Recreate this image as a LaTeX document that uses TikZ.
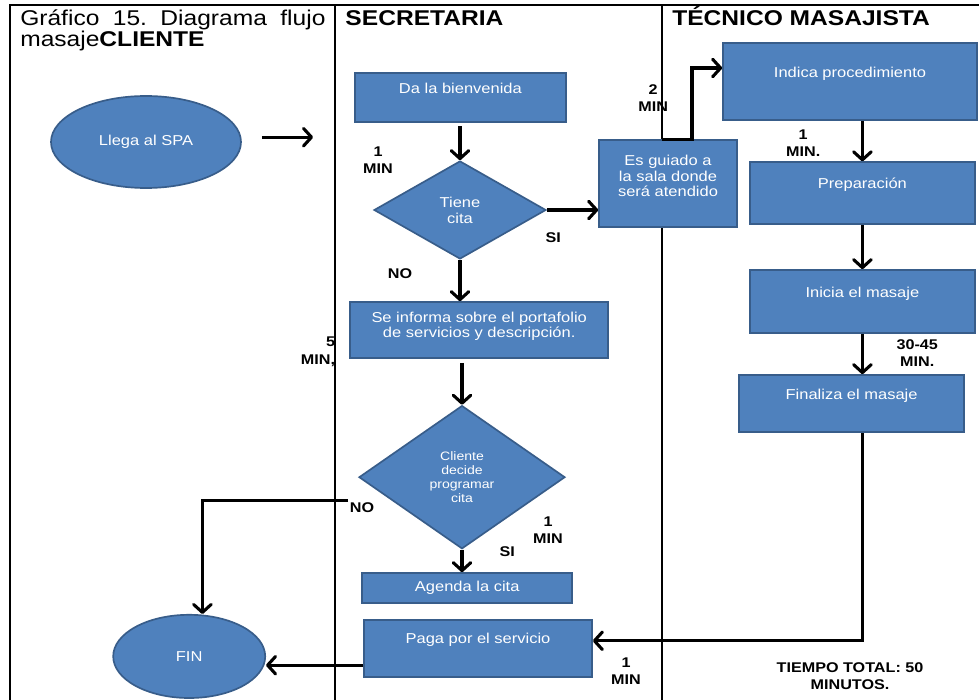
\documentclass[tikz,border=0pt]{standalone}
\usepackage{fontspec}
\setmainfont{Liberation Sans}[FakeStretch=1.15]
\usetikzlibrary{shapes.geometric,arrows.meta,positioning}

\definecolor{azul}{RGB}{79,129,189}
\definecolor{bordeazul}{RGB}{56,93,138}

\tikzset{
		linea/.style={black, line width=1pt},
		caja/.style={draw=bordeazul, fill=azul, line width=1.2pt, text=white, align=center, text depth=0.48cm, font=\fontsize{10.2}{11}\selectfont},
		rombo/.style={diamond, draw=bordeazul, fill=azul, line width=1.2pt, text=white, align=center, inner sep=0pt, font=\fontsize{10.2}{11.5}\selectfont},
		elipse/.style={ellipse, draw=bordeazul, fill=azul, line width=1.2pt, text=white, font=\fontsize{10.2}{11}\selectfont},
		flecha/.style={black, line width=2.2pt, -{Straight Barb[length=2mm,width=4.4mm,round]}},
		etiqueta/.style={align=center, inner sep=0pt, font=\bfseries\fontsize{10}{12.5}\selectfont},
		cabecera/.style={inner sep=0pt, anchor=base west, font=\bfseries\fontsize{15.2}{15}\selectfont}
	}

\begin{document}
\frenchspacing
\begin{tikzpicture}

\useasboundingbox (0,0) rectangle (24.475,-17.5);

\draw [linea] (24.475,-0.125) -- (0.25,-0.125) -- (0.25,-17.5);
\draw [linea] (8.375,-0.125) -- (8.375,-17.5);
\draw [linea] (16.55,-0.125) -- (16.55,-17.5);

\node (titulo) at (0.5,-0.23) [anchor=north west, inner sep=0pt, text width=7.63cm, align=justify, font=\fontsize{15.2}{15}\selectfont] {Gráfico 15. Diagrama flujo masaje\textbf{CLIENTE}};
\node (secretaria) at (8.63,-0.63) [cabecera] {SECRETARIA};
\node (tecnico) at (16.8,-0.63) [cabecera] {TÉCNICO MASAJISTA};


\node (llega) at (3.65,-3.55) [elipse,minimum width=4.75cm,minimum height=2.3cm] {Llega al SPA};
\node (fin) at (4.73,-16.41) [elipse,minimum width=3.8cm,minimum height=2.08cm] {FIN};


\node (bienvenida) at (11.51,-2.44) [caja,minimum width=5.28cm,minimum height=1.22cm] {Da la bienvenida};
\node (tienecita) at (11.5,-5.25) [rombo,minimum width=4.3cm,minimum height=2.45cm] {Tiene\\cita};
\node (informa) at (11.98,-8.25) [caja,minimum width=6.45cm,minimum height=1.4cm,text depth=0.25cm] {Se informa sobre el portafolio\\de servicios y descripción.};
\node (decide) at (11.55,-11.93) [rombo,minimum width=5.15cm,minimum height=3.58cm,font=\fontsize{8.7}{10}\selectfont] {Cliente\\decide\\programar\\cita};
\node (agenda) at (11.68,-14.7) [caja,minimum width=5.25cm,minimum height=0.75cm,text depth=0.08cm] {Agenda la cita};
\node (paga) at (11.95,-16.21) [caja,minimum width=5.7cm,minimum height=1.43cm] {Paga por el servicio};


\node (guiado) at (16.7,-4.59) [caja,minimum width=3.45cm,minimum height=2.18cm,text depth=0.38cm] {Es guiado a\\la sala donde\\será atendido};
\node (indica) at (21.25,-2.04) [caja,minimum width=6.35cm,minimum height=1.93cm] {Indica procedimiento};
\node (preparacion) at (21.56,-4.83) [caja,minimum width=5.63cm,minimum height=1.55cm] {Preparación};
\node (inicia) at (21.56,-7.54) [caja,minimum width=5.63cm,minimum height=1.58cm] {Inicia el masaje};
\node (finaliza) at (21.29,-10.09) [caja,minimum width=5.63cm,minimum height=1.43cm] {Finaliza el masaje};


\node (min1a) at (9.45,-4.0) [etiqueta] {1\\MIN};
\node (noa) at (10.0,-6.85) [etiqueta] {NO};
\node (sia) at (13.83,-5.95) [etiqueta] {SI};
\node (min2) at (16.33,-2.45) [etiqueta] {2\\MIN};
\node (min1b) at (20.08,-3.58) [etiqueta] {1\\MIN.};
\node (min5) at (7.95,-8.8) [etiqueta,align=right] {5\\MIN,};
\node (min3045) at (22.93,-8.83) [etiqueta] {30-45\\MIN.};
\node (nob) at (9.05,-12.68) [etiqueta] {NO};
\node (min1c) at (13.7,-13.25) [etiqueta] {1\\MIN};
\node (sib) at (12.68,-13.78) [etiqueta] {SI};
\node (min1d) at (15.65,-16.78) [etiqueta] {1\\MIN};
\node (total) at (21.25,-16.9) [etiqueta] {TIEMPO TOTAL: 50\\MINUTOS.};


\draw [flecha] ([xshift=0.5cm,yshift=0.12cm]llega.east) -- ++(1.28,0);
\draw [flecha] ([yshift=-0.08cm]bienvenida.south -| tienecita.north) -- (tienecita.north);
\draw [flecha] (tienecita.south) -- (tienecita.south |- informa.north);
\draw [flecha] (tienecita.east) -- (tienecita.east -| guiado.west);
\draw [flecha] ([yshift=-0.1cm]informa.south -| decide.north) -- (decide.north);
\draw [flecha] (decide.south) -- (decide.south |- agenda.north);
\draw [flecha] ([shift={(-0.25,-0.58)}]decide.west) -| ([xshift=0.33cm]fin.north);
\draw [flecha] ([xshift=-0.15cm]guiado.north) -- ++(0.75,0) |- ([yshift=0.34cm]indica.west);
\draw [flecha] (preparacion.north |- indica.south) -- (preparacion.north);
\draw [flecha] (preparacion.south) -- (inicia.north);
\draw [flecha] (inicia.south) -- (inicia.south |- finaliza.north);
\draw [flecha] (inicia.south |- finaliza.south) |- ([yshift=0.19cm]paga.east);
\draw [flecha] ([yshift=-0.42cm]paga.west) -- ([yshift=-0.42cm]paga.west -| fin.east);

\end{tikzpicture}
\end{document}
